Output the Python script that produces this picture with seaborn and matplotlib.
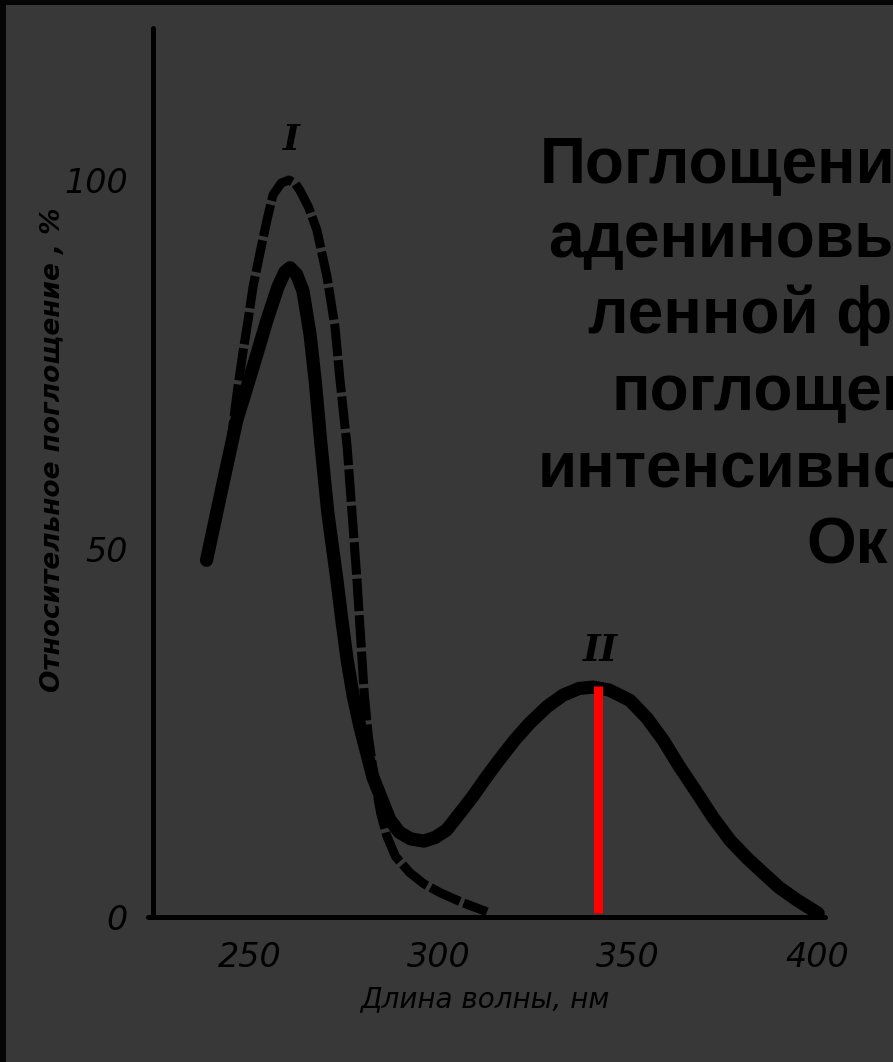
import matplotlib.pyplot as plt
import seaborn as sns
from matplotlib.patches import Rectangle

# кривая II (сплошная): длина волны, нм / относительное поглощение, %
solid_nm = [238.5, 242.5, 246.5, 249.2, 251.9, 254.5, 257.4, 259.2, 260.6, 262.3,
            264.0, 265.9, 267.3, 268.7, 270.6, 273.0, 274.3, 275.7, 277.3, 279.1,
            282.5, 287.0, 289.5, 292.5, 296.0, 299.0, 302.0, 306.3, 309.0, 312.0,
            315.3, 320.0, 324.0, 328.5, 332.8, 337.0, 340.7, 345.0, 350.5, 355.0,
            359.3, 363.5, 368.3, 372.5, 377.0, 381.5, 385.7, 390.0, 394.7, 400.3]
solid_abs = [48.4, 58.0, 67.4, 71.9, 76.5, 81.0, 85.5, 87.5, 88.1, 87.2,
             85.0, 79.0, 72.5, 64.5, 54.8, 45.7, 40.3, 34.9, 30.0, 25.8,
             19.0, 13.2, 11.5, 10.6, 10.3, 10.8, 11.8, 14.6, 16.4, 18.6,
             20.9, 24.0, 26.3, 28.5, 30.1, 31.0, 31.2, 30.8, 29.4, 27.0,
             24.0, 20.5, 16.8, 13.5, 10.4, 8.0, 6.0, 4.0, 2.3, 0.5]

# кривая I (пунктир)
dashed_nm = [238.5, 242.5, 244.8, 246.8, 248.1, 249.5, 250.8, 252.6, 254.5, 256.1,
             258.3, 260.3, 262.0, 263.2, 265.5, 267.7, 270.4, 272.5, 273.8, 275.7,
             277.0, 278.3, 279.1, 280.2, 281.3, 283.0, 284.6, 286.2, 288.5, 292.3,
             296.0, 300.3, 306.0, 312.7]
dashed_abs = [48.4, 58.0, 64.0, 71.9, 76.5, 81.0, 85.5, 90.0, 94.6, 98.0,
              99.6, 100.0, 99.5, 98.6, 96.3, 93.2, 86.8, 80.0, 72.9, 63.8,
              54.8, 45.7, 39.3, 30.4, 24.5, 18.5, 14.0, 11.0, 8.2, 6.0,
              4.5, 3.3, 2.0, 0.7]

peak_nm = 342.0
peak_abs = 31.3

xticks = [250, 300, 350, 400]
yticks = [0, 50, 100]

slide_lines = ['Поглощение', 'адениновых', 'ленной фо', 'поглощение', 'интенсивно', 'Ок']
slide_x = [540, 548, 588, 612, 538, 806]
slide_base = [182, 257, 333, 410, 487, 563]

W, H = 893, 1062
BG = '#383838'

sns.set_style('white')
plt.rcParams['font.family'] = ['DejaVu Sans']

fig = plt.figure(figsize=(W / 100, H / 100), dpi=100)
fig.patch.set_facecolor('#050505')
fig.add_artist(Rectangle((6 / W, 0), 1, 1 - 5 / H, transform=fig.transFigure,
                         facecolor=BG, edgecolor='none', zorder=-5))

ax = fig.add_axes([0, 0, 1, 1])
ax.set_facecolor('none')
ax.patch.set_alpha(0)

sns.lineplot(x=dashed_nm, y=dashed_abs, ax=ax, color='black', linewidth=6.5,
             linestyle=(0, (3.6, 0.45)), dash_joinstyle='round', sort=False)
sns.lineplot(x=solid_nm, y=solid_abs, ax=ax, color='black', linewidth=9.5,
             solid_joinstyle='round', solid_capstyle='round', sort=False)
ax.vlines(peak_nm, 0.6, peak_abs, color='#ff0000', linewidth=6.5, zorder=5)

# пиксельная привязка: 300 нм -> x=439, шаг 3.78 px/нм; 0 % -> y=917, 7.37 px/%
ax.set_xlim(300 - 439 / 3.78, 300 + (W - 439) / 3.78)
ax.set_ylim((917 - H) / 7.37, 917 / 7.37)

for s in ['top', 'right']:
    ax.spines[s].set_visible(False)
ax.spines['left'].set_position(('data', 224.3))
ax.spines['left'].set_bounds(0, 120.6)
ax.spines['bottom'].set_position(('data', 0))
ax.spines['bottom'].set_bounds(223.0, 402.0)
for s in ['left', 'bottom']:
    ax.spines[s].set_linewidth(3.6)
    ax.spines[s].set_color('black')
    ax.spines[s].set_capstyle('round')

ax.set_xticks(xticks, labels=[str(v) for v in xticks], fontstyle='italic', fontsize=24)
ax.set_yticks(yticks, labels=[str(v) for v in yticks], fontstyle='italic', fontsize=24)
ax.tick_params(axis='x', direction='in', length=25, width=2.2, pad=17, colors='black')
ax.tick_params(axis='y', direction='in', length=23, width=2.2, pad=18, colors='black')
ax.yaxis.get_major_ticks()[0].tick1line.set_visible(False)

ax.set_xlabel('Длина волны, нм', fontsize=20, fontstyle='italic', color='black')
ax.xaxis.set_label_coords(485 / W, 1 - 985 / H)
ax.set_ylabel('Относительное поглощение , %', fontsize=19, fontstyle='italic',
              fontweight='bold', color='black')
ax.yaxis.set_label_coords(66 / W, 1 - 450 / H)

ax.text(260.8, 105.4, 'I', family='DejaVu Serif', fontsize=26, fontweight='bold',
        fontstyle='italic', ha='center', va='center', color='black')
ax.text(342.6, 36.2, 'II', family='DejaVu Serif', fontsize=27, fontweight='bold',
        fontstyle='italic', ha='center', va='center', color='black')

for line, px, py in zip(slide_lines, slide_x, slide_base):
    fig.text(px / W, 1 - py / H, line, family='Liberation Sans', fontweight='bold',
             fontsize=46, color='black', ha='left', va='baseline')

fig.savefig('out.png', dpi=100, facecolor=fig.get_facecolor())
